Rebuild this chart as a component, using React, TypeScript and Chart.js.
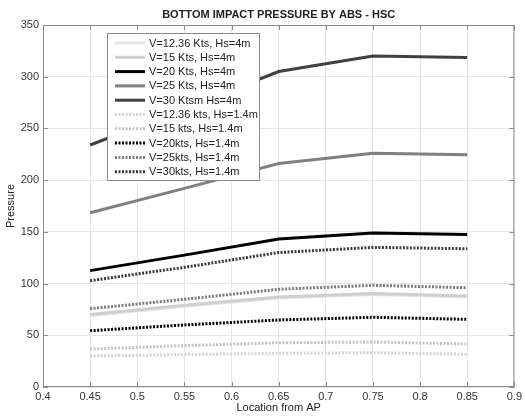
import React, { useEffect, useRef } from "react";
import { Chart, registerables } from "chart.js";

Chart.register(...registerables);

const xValues = [0.45, 0.55, 0.65, 0.75, 0.85];

const v1236Hs4 = [69, 78, 86, 89.5, 87];
const v15Hs4 = [70, 79, 87, 90.5, 88];
const v20Hs4 = [112.5, 127.5, 143, 149, 147.5];
const v25Hs4 = [168.5, 192, 216, 226, 224.5];
const v30Hs4 = [234, 269, 305, 320, 318.5];
const v1236Hs14 = [30, 31.3, 32.6, 33.2, 31.6];
const v15Hs14 = [36.7, 40, 42.8, 43.5, 41.6];
const v20Hs14 = [54.4, 60, 64.8, 67.4, 65.4];
const v25Hs14 = [75.7, 84.8, 94.5, 98.3, 96];
const v30Hs14 = [102.8, 115.7, 130, 135, 133.7];

const seriesLabels = [
  "V=12.36 Kts, Hs=4m",
  "V=15 Kts, Hs=4m",
  "V=20 Kts, Hs=4m",
  "V=25 Kts, Hs=4m",
  "V=30 Ktsm Hs=4m",
  "V=12.36 kts, Hs=1.4m",
  "V=15 kts, Hs=1.4m",
  "V=20kts, Hs=1.4m",
  "V=25kts, Hs=1.4m",
  "V=30kts, Hs=1.4m",
];
const seriesValues = [
  v1236Hs4, v15Hs4, v20Hs4, v25Hs4, v30Hs4,
  v1236Hs14, v15Hs14, v20Hs14, v25Hs14, v30Hs14,
];
const seriesColors = [
  "#e6e6e6", "#cfcfcf", "#000000", "#808080", "#404040",
  "#d4d4d4", "#c4c4c4", "#000000", "#7a7a7a", "#3a3a3a",
];
const seriesDotted = [false, false, false, false, false, true, true, true, true, true];

const chartTitle = "BOTTOM IMPACT PRESSURE BY ABS - HSC";
const xTitle = "Location from AP";
const yTitle = "Pressure";

const FONT = "'Liberation Sans', Arial, Helvetica, sans-serif";
const DOT = [2, 1.5];

const framePlugin = {
  id: "frame",
  afterDraw(chart: any) {
    const { ctx, chartArea: a, scales } = chart;
    ctx.save();
    ctx.strokeStyle = "#8a8a8a";
    ctx.lineWidth = 1;
    ctx.strokeRect(a.left + 0.5, a.top + 0.5, a.right - a.left - 1, a.bottom - a.top - 1);
    const tl = 5;
    ctx.beginPath();
    scales.x.ticks.forEach((t: any) => {
      const px = Math.round(scales.x.getPixelForValue(t.value)) + 0.5;
      ctx.moveTo(px, a.bottom);
      ctx.lineTo(px, a.bottom - tl);
      ctx.moveTo(px, a.top);
      ctx.lineTo(px, a.top + tl);
    });
    scales.y.ticks.forEach((t: any) => {
      const py = Math.round(scales.y.getPixelForValue(t.value)) + 0.5;
      ctx.moveTo(a.left, py);
      ctx.lineTo(a.left + tl, py);
      ctx.moveTo(a.right, py);
      ctx.lineTo(a.right - tl, py);
    });
    ctx.stroke();
    ctx.fillStyle = "#222";
    ctx.font = `bold 11px ${FONT}`;
    ctx.textAlign = "center";
    ctx.textBaseline = "middle";
    ctx.fillText(chartTitle, (a.left + a.right) / 2, 15);
    const lx = a.left + 64;
    const ly = a.top + 8;
    const lw = 152;
    const lh = 147;
    ctx.fillStyle = "#ffffff";
    ctx.fillRect(lx, ly, lw, lh);
    ctx.strokeStyle = "#8a8a8a";
    ctx.strokeRect(lx + 0.5, ly + 0.5, lw, lh);
    ctx.font = `11px ${FONT}`;
    ctx.textAlign = "left";
    chart.data.datasets.forEach((ds: any, i: number) => {
      const y = ly + 10 + i * 14.3;
      ctx.beginPath();
      ctx.strokeStyle = ds.borderColor;
      ctx.lineWidth = 3;
      ctx.setLineDash(ds.borderDash || []);
      ctx.moveTo(lx + 8, y);
      ctx.lineTo(lx + 38, y);
      ctx.stroke();
      ctx.setLineDash([]);
      ctx.fillStyle = "#222";
      ctx.fillText(ds.label, lx + 42, y + 0.5);
    });
    ctx.restore();
  },
};

export default function App() {
  const ref = useRef<HTMLCanvasElement | null>(null);
  useEffect(() => {
    document.body.style.margin = "0";
    const datasets = seriesLabels.map((label, i) => ({
      label,
      data: xValues.map((x, j) => ({ x, y: seriesValues[i][j] })),
      borderColor: seriesColors[i],
      backgroundColor: seriesColors[i],
      borderWidth: 3,
      borderDash: seriesDotted[i] ? DOT : [],
      pointRadius: 0,
      tension: 0,
      fill: false,
      order: 10 - i,
    }));
    const chart = new Chart(ref.current!, {
      type: "line",
      data: { datasets },
      plugins: [framePlugin],
      options: {
        animation: false,
        responsive: false,
        layout: { padding: { top: 25, right: 9, left: 0, bottom: 0 } },
        plugins: { legend: { display: false }, title: { display: false }, tooltip: { enabled: false } },
        scales: {
          x: {
            type: "linear",
            min: 0.4,
            max: 0.9,
            afterFit: (s: any) => { s.height = 30; },
            ticks: {
              stepSize: 0.05,
              padding: 3,
              color: "#333",
              font: { family: FONT, size: 11 },
              callback: (v: any) => String(Number(Number(v).toFixed(2))),
            },
            grid: { color: "#e6e6e6", lineWidth: 1, drawTicks: false },
            border: { display: false },
            title: {
              display: true,
              text: xTitle,
              color: "#222",
              font: { family: FONT, size: 11 },
              padding: { top: 0, bottom: 2 },
            },
          },
          y: {
            type: "linear",
            min: 0,
            max: 350,
            afterFit: (s: any) => { s.width = 43; },
            ticks: {
              stepSize: 50,
              padding: 4,
              color: "#333",
              font: { family: FONT, size: 11 },
            },
            grid: { color: "#e6e6e6", lineWidth: 1, drawTicks: false },
            border: { display: false },
            title: {
              display: true,
              text: yTitle,
              color: "#222",
              font: { family: FONT, size: 11 },
              padding: { top: 4, bottom: 0 },
            },
          },
        },
      } as any,
    });
    return () => chart.destroy();
  }, []);
  return <canvas ref={ref} width={525} height={417} style={{ display: "block" }} />;
}
